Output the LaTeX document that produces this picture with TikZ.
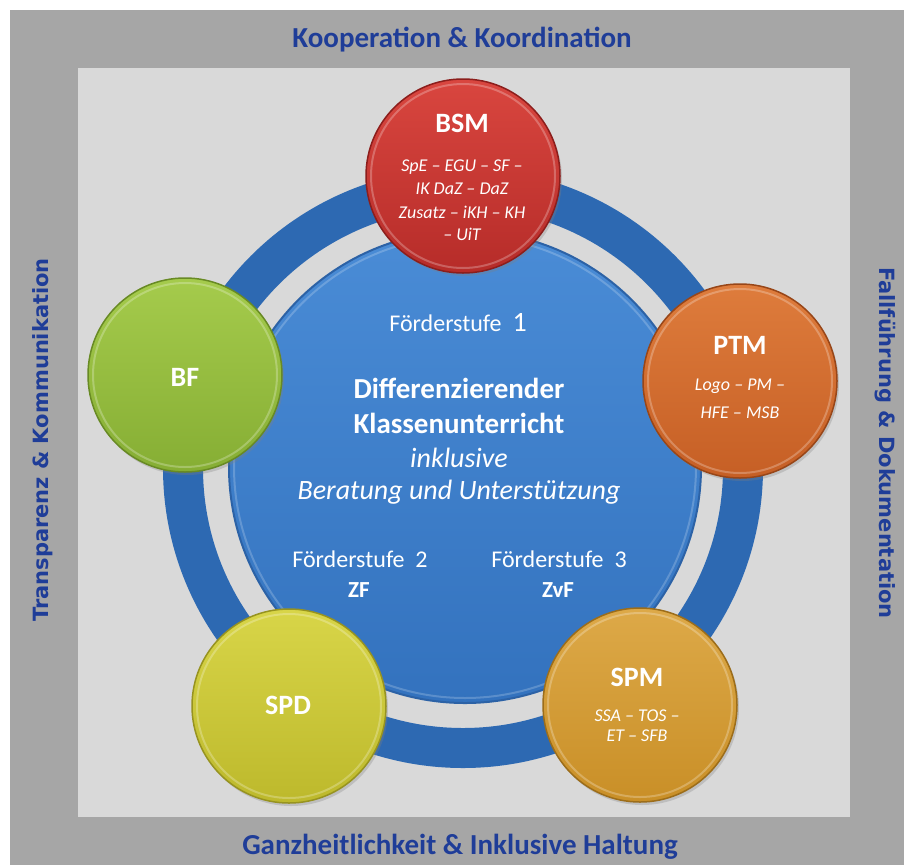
\documentclass[tikz,border=0pt]{standalone}
\usepackage{fontspec}
\setmainfont{Carlito}
\newfontfamily\verd{DejaVu Sans}
\usetikzlibrary{shadows}
\definecolor{outerC}{HTML}{A6A6A6}
\definecolor{innerC}{HTML}{D9D9D9}
\definecolor{titleC}{HTML}{1F3D98}
\definecolor{ringC}{HTML}{2D69B2}
\definecolor{bigT}{HTML}{4A8CD6}
\definecolor{bigB}{HTML}{3372BE}
\definecolor{bigR}{HTML}{2C62A6}
\definecolor{redT}{HTML}{D9463F}
\definecolor{redB}{HTML}{B62C29}
\definecolor{redR}{HTML}{8C1E1C}
\definecolor{grnT}{HTML}{A5CB4C}
\definecolor{grnB}{HTML}{86AE34}
\definecolor{grnR}{HTML}{688A24}
\definecolor{orgT}{HTML}{DE7C3C}
\definecolor{orgB}{HTML}{C65F25}
\definecolor{orgR}{HTML}{984618}
\definecolor{yelT}{HTML}{D8D548}
\definecolor{yelB}{HTML}{BDB92C}
\definecolor{yelR}{HTML}{979320}
\definecolor{golT}{HTML}{DDA948}
\definecolor{golB}{HTML}{C98F27}
\definecolor{golR}{HTML}{9C6D1A}
\begin{document}
\begin{tikzpicture}[x=1pt,y=-1pt,
  lbl/.style={font=\bfseries\fontsize{29}{33}\selectfont, text=titleC, inner sep=0pt},
  side/.style={font=\verd\bfseries\fontsize{21}{24}\selectfont, text=titleC, inner sep=0pt},
  ball/.style n args={3}{circle, inner sep=0pt, minimum size=194pt, line width=1.5pt,
     top color=#1, bottom color=#2, draw=#3,
     drop shadow={opacity=0.3, shadow xshift=2pt, shadow yshift=-3pt}},
  head/.style={text=white, inner sep=0pt, font=\bfseries\fontsize{28}{32}\selectfont},
  sub/.style={text=white, inner sep=0pt, font=\itshape\fontsize{18}{21}\selectfont},
  wt/.style={text=white, inner sep=0pt, font=\fontsize{24}{28}\selectfont},
  wtb/.style={text=white, inner sep=0pt, font=\bfseries\fontsize{29}{33}\selectfont},
  wti/.style={text=white, inner sep=0pt, font=\itshape\fontsize{28}{32}\selectfont},
]
\useasboundingbox (0,0) rectangle (904,865);
\fill[white] (0,0) rectangle (904,865);
\fill[outerC] (10,10) rectangle (904,865);
\fill[innerC] (78,68) rectangle (850,817);

\node[lbl] (top) at (462,40) {Kooperation \& Koordination};
\node[lbl] (bottom) at (460,847) {Ganzheitlichkeit \& Inklusive Haltung};
\node[side, rotate=90] (left) at (43,440) {Transparenz \& Kommunikation};
\node[side, rotate=-90] (right) at (885,443) {Fallführung \& Dokumentation};

% ring and core
\node[circle, inner sep=0pt, minimum size=560pt, draw=ringC, line width=40pt] (ring) at (463,468) {};
\node[circle, inner sep=0pt, minimum size=472pt, top color=bigT, bottom color=bigB, draw=bigR, line width=2pt] (core) at (465,467) {};
\draw[white, opacity=0.2, line width=2pt] (core.center) circle[radius=231pt];

\node[wt] (fs1) at (458,323) {Förderstufe\ \ {\fontsize{28}{32}\selectfont 1}};
\node[wtb] (l1) at (459,388) {Differenzierender};
\node[wtb] (l2) at (459,423) {Klassenunterricht};
\node[wti] (l3) at (459,458) {inklusive};
\node[wti] (l4) at (459,492) {Beratung und Unterstützung};
\node[wt] (fs2) at (360,559) {Förderstufe\ \ 2};
\node[wtb, font=\bfseries\fontsize{23}{27}\selectfont] (zf) at (359,590) {ZF};
\node[wt] (fs3) at (559,559) {Förderstufe\ \ 3};
\node[wtb, font=\bfseries\fontsize{23}{27}\selectfont] (zvf) at (558,590) {ZvF};

% satellites
\node[ball={redT}{redB}{redR}] (bsm) at (463,176) {};
\node[ball={grnT}{grnB}{grnR}] (bf) at (185,375) {};
\node[ball={orgT}{orgB}{orgR}] (ptm) at (740,381) {};
\node[ball={yelT}{yelB}{yelR}] (spd) at (289,706) {};
\node[ball={golT}{golB}{golR}] (spm) at (640,705) {};
\foreach \n in {bsm,bf,ptm,spd,spm}{
  \draw[white, opacity=0.25, line width=2pt] (\n.center) circle[radius=92pt];
}

\node[head] (bsmT) at (462,123) {BSM};
\node[sub] (bsm1) at (462,167) {SpE – EGU – SF –};
\node[sub] (bsm2) at (462,189) {IK DaZ – DaZ};
\node[sub] (bsm3) at (462,212) {Zusatz – iKH – KH};
\node[sub] (bsm4) at (462,234) {– UiT};

\node[head] (bfT) at (185,377) {BF};

\node[head] (ptmT) at (740,345) {PTM};
\node[sub] (ptm1) at (740,386) {Logo – PM –};
\node[sub] (ptm2) at (740,413) {HFE – MSB};

\node[head] (spdT) at (288,705) {SPD};

\node[head] (spmT) at (637,677) {SPM};
\node[sub] (spm1) at (637,716) {SSA – TOS –};
\node[sub] (spm2) at (637,736) {ET – SFB};
\end{tikzpicture}
\end{document}
